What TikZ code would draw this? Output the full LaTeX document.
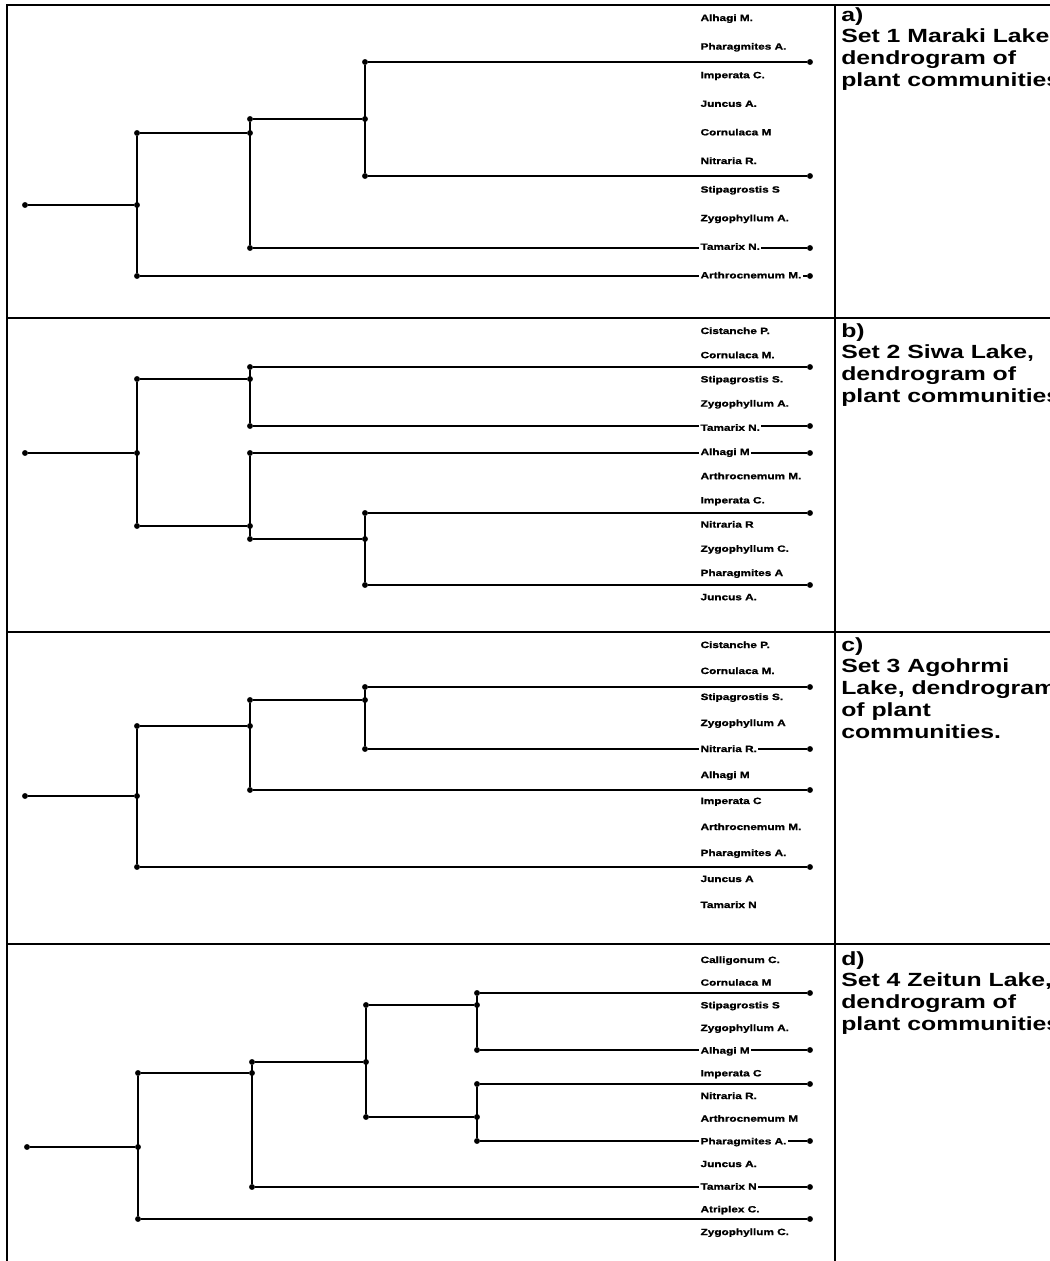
\documentclass[tikz,border=0pt]{standalone}
\usepackage{fontspec}
\newfontfamily\plotfont[FakeStretch=1.3]{Liberation Sans}
\newfontfamily\taxafont[FakeStretch=1.3, BoldFeatures={FakeBold=1.2}]{Liberation Sans}
\usetikzlibrary{positioning}

\begin{document}
\begin{tikzpicture}[
  x=0.75pt, y=-0.75pt,
  frame/.style={line width=1.7pt},
  branch/.style={line width=1.6pt},
  dot/.style={circle, fill, inner sep=0pt, minimum size=4.4pt},
  taxon/.style={anchor=base west, fill=white, inner sep=1pt, font=\taxafont\bfseries\fontsize{6.8}{7}\selectfont},
  caption/.style={anchor=north west, align=left, inner sep=0pt, font=\plotfont\bfseries\fontsize{14.3}{16.3}\selectfont},
]
\useasboundingbox (0,0) rectangle (1050,1261);

% frame and panel rules
\draw[frame] (7,1261) -- (7,5) -- (1050,5);
\draw[frame] (835,5) -- (835,1261);
\draw[frame] (7,318) -- (1050,318);
\draw[frame] (7,632) -- (1050,632);
\draw[frame] (7,944) -- (1050,944);

% a) Maraki Lake
\node[dot] (a-root) at (25,205) {};
\node[dot] (a-1) at (137,205) {};
\node[dot] (a-1t) at (137,133) {};
\node[dot] (a-1b) at (137,276) {};
\node[dot] (a-2) at (250,133) {};
\node[dot] (a-2t) at (250,119) {};
\node[dot] (a-2b) at (250,248) {};
\node[dot] (a-3) at (365,119) {};
\node[dot] (a-3t) at (365,62) {};
\node[dot] (a-3b) at (365,176) {};
\node[dot] (a-l1) at (810,62) {};
\node[dot] (a-l2) at (810,176) {};
\node[dot] (a-l3) at (810,248) {};
\node[dot] (a-l4) at (810,276) {};
\draw[branch] (a-root) -- (a-1) (a-1t) -- (a-1b) (a-1t) -- (a-2) (a-2t) -- (a-2b)
  (a-2t) -- (a-3) (a-3t) -- (a-3b) (a-3t) -- (a-l1) (a-3b) -- (a-l2)
  (a-2b) -- (a-l3) (a-1b) -- (a-l4);
\foreach \taxa [count=\i from 0] in {Alhagi M., Pharagmites A., Imperata C., Juncus A., Cornulaca M, Nitraria R., Stipagrostis S, Zygophyllum A., Tamarix N., Arthrocnemum M.}
  \node[taxon] (a-t\i) at (699,21+28.6*\i) {\taxa};
\node[caption] (a-cap) at (841,7) {a)\\Set 1 Maraki Lake\\dendrogram of\\plant communities};

% b) Siwa Lake
\node[dot] (b-root) at (25,453) {};
\node[dot] (b-1) at (137,453) {};
\node[dot] (b-1t) at (137,379) {};
\node[dot] (b-1b) at (137,526) {};
\node[dot] (b-2) at (250,379) {};
\node[dot] (b-2t) at (250,367) {};
\node[dot] (b-2b) at (250,426) {};
\node[dot] (b-3) at (250,526) {};
\node[dot] (b-3t) at (250,453) {};
\node[dot] (b-3b) at (250,539) {};
\node[dot] (b-4) at (365,539) {};
\node[dot] (b-4t) at (365,513) {};
\node[dot] (b-4b) at (365,585) {};
\node[dot] (b-l1) at (810,367) {};
\node[dot] (b-l2) at (810,426) {};
\node[dot] (b-l3) at (810,453) {};
\node[dot] (b-l4) at (810,513) {};
\node[dot] (b-l5) at (810,585) {};
\draw[branch] (b-root) -- (b-1) (b-1t) -- (b-1b) (b-1t) -- (b-2) (b-2t) -- (b-2b)
  (b-1b) -- (b-3) (b-3t) -- (b-3b) (b-3b) -- (b-4) (b-4t) -- (b-4b)
  (b-2t) -- (b-l1) (b-2b) -- (b-l2) (b-3t) -- (b-l3) (b-4t) -- (b-l4) (b-4b) -- (b-l5);
\foreach \taxa [count=\i from 0] in {Cistanche P., Cornulaca M., Stipagrostis S., Zygophyllum A., Tamarix N., Alhagi M, Arthrocnemum M., Imperata C., Nitraria R, Zygophyllum C., Pharagmites A, Juncus A.}
  \node[taxon] (b-t\i) at (699,334+24.2*\i) {\taxa};
\node[caption] (b-cap) at (841,323) {b)\\Set 2 Siwa Lake,\\dendrogram of\\plant communities};

% c) Agohrmi Lake
\node[dot] (c-root) at (25,796) {};
\node[dot] (c-1) at (137,796) {};
\node[dot] (c-1t) at (137,726) {};
\node[dot] (c-1b) at (137,867) {};
\node[dot] (c-2) at (250,726) {};
\node[dot] (c-2t) at (250,700) {};
\node[dot] (c-2b) at (250,790) {};
\node[dot] (c-3) at (365,700) {};
\node[dot] (c-3t) at (365,687) {};
\node[dot] (c-3b) at (365,749) {};
\node[dot] (c-l1) at (810,687) {};
\node[dot] (c-l2) at (810,749) {};
\node[dot] (c-l3) at (810,790) {};
\node[dot] (c-l4) at (810,867) {};
\draw[branch] (c-root) -- (c-1) (c-1t) -- (c-1b) (c-1t) -- (c-2) (c-2t) -- (c-2b)
  (c-2t) -- (c-3) (c-3t) -- (c-3b) (c-3t) -- (c-l1) (c-3b) -- (c-l2)
  (c-2b) -- (c-l3) (c-1b) -- (c-l4);
\foreach \taxa [count=\i from 0] in {Cistanche P., Cornulaca M., Stipagrostis S., Zygophyllum A, Nitraria R., Alhagi M, Imperata C, Arthrocnemum M., Pharagmites A., Juncus A, Tamarix N}
  \node[taxon] (c-t\i) at (699,648+26*\i) {\taxa};
\node[caption] (c-cap) at (841,637) {c)\\Set 3 Agohrmi\\Lake, dendrogram\\of plant\\communities.};

% d) Zeitun Lake
\node[dot] (d-root) at (27,1147) {};
\node[dot] (d-1) at (138,1147) {};
\node[dot] (d-1t) at (138,1073) {};
\node[dot] (d-1b) at (138,1219) {};
\node[dot] (d-2) at (252,1073) {};
\node[dot] (d-2t) at (252,1062) {};
\node[dot] (d-2b) at (252,1187) {};
\node[dot] (d-3) at (366,1062) {};
\node[dot] (d-3t) at (366,1005) {};
\node[dot] (d-3b) at (366,1117) {};
\node[dot] (d-4) at (477,1005) {};
\node[dot] (d-4t) at (477,993) {};
\node[dot] (d-4b) at (477,1050) {};
\node[dot] (d-5) at (477,1117) {};
\node[dot] (d-5t) at (477,1084) {};
\node[dot] (d-5b) at (477,1141) {};
\node[dot] (d-l1) at (810,993) {};
\node[dot] (d-l2) at (810,1050) {};
\node[dot] (d-l3) at (810,1084) {};
\node[dot] (d-l4) at (810,1141) {};
\node[dot] (d-l5) at (810,1187) {};
\node[dot] (d-l6) at (810,1219) {};
\draw[branch] (d-root) -- (d-1) (d-1t) -- (d-1b) (d-1t) -- (d-2) (d-2t) -- (d-2b)
  (d-2t) -- (d-3) (d-3t) -- (d-3b) (d-3t) -- (d-4) (d-4t) -- (d-4b)
  (d-3b) -- (d-5) (d-5t) -- (d-5b)
  (d-4t) -- (d-l1) (d-4b) -- (d-l2) (d-5t) -- (d-l3) (d-5b) -- (d-l4)
  (d-2b) -- (d-l5) (d-1b) -- (d-l6);
\foreach \taxa [count=\i from 0] in {Calligonum C., Cornulaca M, Stipagrostis S, Zygophyllum A., Alhagi M, Imperata C, Nitraria R., Arthrocnemum M, Pharagmites A., Juncus A., Tamarix N, Atriplex C., Zygophyllum C.}
  \node[taxon] (d-t\i) at (699,963+22.67*\i) {\taxa};
\node[caption] (d-cap) at (841,951) {d)\\Set 4 Zeitun Lake,\\dendrogram of\\plant communities};

\end{tikzpicture}
\end{document}
